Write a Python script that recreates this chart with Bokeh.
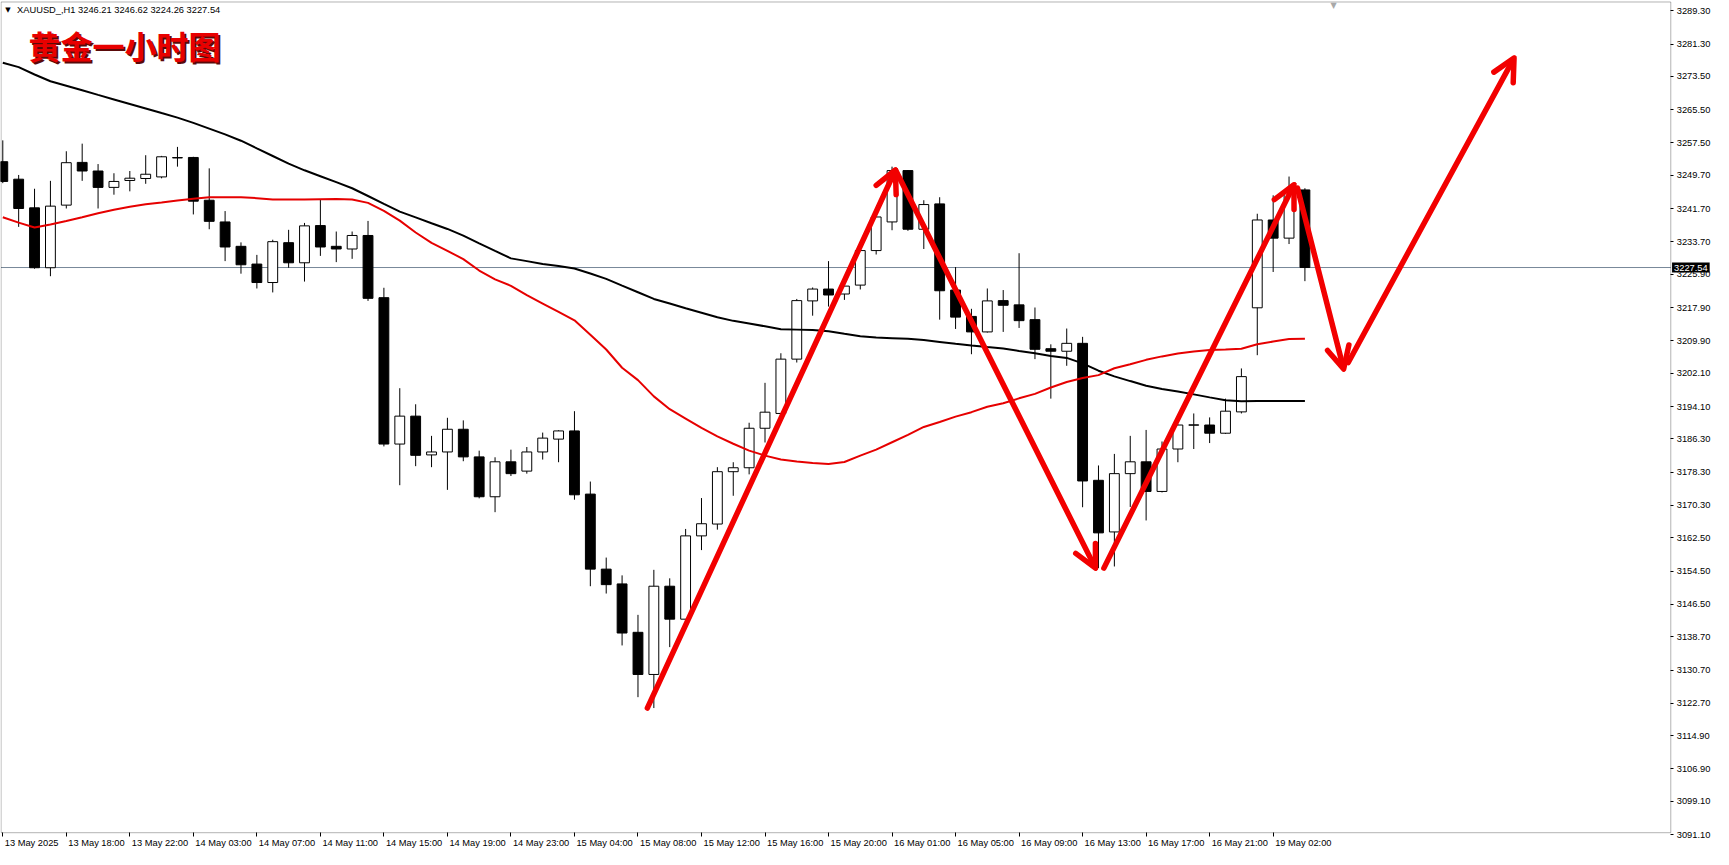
from bokeh.plotting import figure
from bokeh.models import (Range1d, FixedTicker, PrintfTickFormatter, Label, LabelSet,
                          ColumnDataSource, Arrow, OpenHead, BoxAnnotation, LinearAxis)
from bokeh.core.properties import value
from bokeh.embed import file_html
from bokeh.resources import INLINE

# ---------------- data (XAUUSD H1) ----------------
open_ = [3253.00, 3248.79, 3241.90, 3227.49, 3242.55, 3252.83, 3250.76, 3246.82, 3248.48, 3248.96,
         3249.34, 3253.90, 3254.02, 3243.73, 3238.51, 3232.64, 3228.37, 3223.93, 3233.52, 3228.68,
         3237.63, 3232.64, 3232.00, 3235.25, 3220.29, 3185.07, 3191.79, 3182.46, 3183.17, 3188.63,
         3181.98, 3172.39, 3180.80, 3178.56, 3183.17, 3186.26, 3188.23, 3173.03, 3154.98, 3151.42,
         3139.78, 3129.64, 3150.87, 3142.94, 3162.98, 3165.83, 3178.42, 3179.37, 3188.87, 3192.43,
         3205.50, 3219.51, 3222.36, 3221.17, 3223.31, 3231.62, 3238.51, 3250.86, 3236.75, 3242.85,
         3222.12, 3215.78, 3212.05, 3219.58, 3218.56, 3215.00, 3208.01, 3207.40, 3209.30, 3176.35,
         3163.93, 3177.95, 3180.80, 3173.67, 3183.88, 3189.60, 3189.65, 3187.68, 3192.81, 3217.85,
         3238.98, 3234.61, 3246.21]
high = [3258.13, 3249.81, 3246.49, 3248.39, 3255.51, 3257.34, 3252.43, 3250.22, 3250.76, 3254.56,
        3254.40, 3256.56, 3254.18, 3251.40, 3241.12, 3233.59, 3230.58, 3234.23, 3236.61, 3238.27,
        3243.88, 3236.20, 3236.20, 3238.75, 3222.67, 3198.51, 3194.64, 3187.04, 3191.39, 3190.77,
        3183.48, 3181.89, 3183.72, 3184.36, 3187.83, 3188.40, 3192.98, 3176.05, 3157.76, 3153.48,
        3143.98, 3154.81, 3152.77, 3164.65, 3172.08, 3179.51, 3180.70, 3190.20, 3199.80, 3206.92,
        3219.98, 3222.74, 3229.08, 3223.30, 3231.80, 3239.90, 3251.81, 3251.00, 3243.73, 3244.45,
        3227.65, 3217.61, 3222.50, 3222.12, 3230.98, 3217.92, 3209.06, 3212.86, 3210.86, 3179.92,
        3182.70, 3187.04, 3188.47, 3185.69, 3189.80, 3192.43, 3191.48, 3196.00, 3203.26, 3240.48,
        3244.92, 3249.43, 3246.62]
low = [3247.84, 3237.32, 3227.25, 3225.45, 3241.74, 3248.39, 3241.74, 3245.06, 3245.87, 3247.68,
       3249.00, 3251.81, 3240.31, 3236.75, 3229.08, 3226.06, 3222.50, 3221.55, 3227.49, 3224.16,
       3230.34, 3228.84, 3229.63, 3219.51, 3184.50, 3175.17, 3179.75, 3179.51, 3174.05, 3180.94,
       3172.01, 3168.68, 3177.38, 3177.95, 3181.34, 3180.70, 3171.68, 3150.87, 3149.11, 3136.62,
       3124.18, 3121.56, 3136.22, 3142.80, 3159.56, 3164.48, 3172.63, 3177.78, 3185.45, 3192.30,
       3204.69, 3215.95, 3218.15, 3219.75, 3222.26, 3230.67, 3236.51, 3236.37, 3232.00, 3215.00,
       3212.76, 3206.68, 3211.90, 3212.05, 3213.00, 3205.50, 3196.00, 3203.90, 3169.87, 3155.22,
       3155.62, 3169.94, 3166.69, 3173.43, 3180.70, 3183.88, 3185.31, 3187.50, 3192.43, 3206.45,
       3226.47, 3233.19, 3224.26]
close = [3248.25, 3241.74, 3227.49, 3242.31, 3252.76, 3250.76, 3246.82, 3248.25, 3249.03, 3249.98,
         3254.18, 3254.00, 3243.50, 3238.65, 3232.48, 3228.20, 3223.93, 3233.76, 3228.68, 3237.56,
         3232.48, 3232.00, 3235.25, 3220.13, 3185.07, 3191.79, 3182.36, 3183.17, 3188.63, 3181.98,
         3172.39, 3180.80, 3177.95, 3183.17, 3186.50, 3188.23, 3172.86, 3154.98, 3151.25, 3139.61,
         3129.64, 3150.87, 3142.94, 3162.98, 3165.90, 3178.42, 3179.37, 3188.87, 3192.74, 3205.50,
         3219.58, 3222.36, 3220.93, 3223.07, 3231.62, 3239.70, 3250.86, 3236.75, 3242.69, 3221.95,
         3215.61, 3212.05, 3219.51, 3218.46, 3214.76, 3207.87, 3207.40, 3209.30, 3176.19, 3163.70,
         3177.95, 3180.80, 3173.67, 3183.88, 3189.65, 3189.70, 3187.68, 3192.98, 3201.29, 3238.98,
         3234.61, 3246.10, 3227.54]

ma_black = [3276.82, 3275.75, 3273.97, 3272.35, 3271.26, 3270.17, 3269.07, 3267.98, 3266.89, 3265.80,
            3264.70, 3263.61, 3262.33, 3260.95, 3259.57, 3258.05, 3256.20, 3254.37, 3252.52, 3250.93,
            3249.50, 3248.08, 3246.61, 3244.75, 3242.85, 3241.00, 3239.60, 3238.20, 3236.82, 3235.23,
            3233.35, 3231.53, 3229.74, 3229.08, 3228.37, 3227.89, 3227.32, 3226.09, 3224.80, 3223.19,
            3221.60, 3219.98, 3218.87, 3217.75, 3216.68, 3215.59, 3214.71, 3214.05, 3213.40, 3212.69,
            3212.60, 3212.50, 3212.22, 3211.62, 3211.03, 3210.70, 3210.55, 3210.41, 3210.08, 3209.65,
            3209.20, 3208.80, 3208.42, 3208.06, 3207.47, 3206.92, 3206.28, 3205.80, 3204.47, 3202.72,
            3201.36, 3200.22, 3199.11, 3198.32, 3197.73, 3197.02, 3196.30, 3195.59, 3195.35, 3195.40,
            3195.40, 3195.45, 3195.45]
ma_red = [3239.65, 3238.34, 3237.15, 3237.87, 3238.75, 3239.65, 3240.60, 3241.43, 3242.14, 3242.74,
          3243.21, 3243.69, 3244.09, 3244.45, 3244.45, 3244.45, 3244.23, 3243.92, 3243.88, 3243.90,
          3243.95, 3244.00, 3243.92, 3243.09, 3241.19, 3238.82, 3235.97, 3233.47, 3231.57, 3229.55,
          3226.82, 3224.69, 3223.14, 3220.89, 3218.87, 3216.85, 3214.83, 3211.39, 3207.82, 3203.43,
          3200.46, 3196.54, 3193.45, 3191.20, 3188.94, 3186.92, 3185.14, 3183.48, 3182.29, 3181.34,
          3180.87, 3180.51, 3180.27, 3180.75, 3182.29, 3183.72, 3185.50, 3187.28, 3189.18, 3190.37,
          3191.67, 3192.74, 3194.05, 3194.88, 3196.07, 3197.14, 3198.68, 3199.99, 3200.94, 3201.65,
          3203.31, 3204.26, 3205.33, 3206.16, 3206.87, 3207.35, 3207.70, 3207.82, 3207.99, 3209.08,
          3209.72, 3210.32, 3210.39]

time_tick_idx = [0, 4, 8, 12, 16, 20, 24, 28, 32, 36, 40, 44, 48, 52, 56, 60, 64, 68, 72, 76, 80]
time_tick_labels = ["13 May 2025", "13 May 18:00", "13 May 22:00", "14 May 03:00", "14 May 07:00",
                    "14 May 11:00", "14 May 15:00", "14 May 19:00", "14 May 23:00", "15 May 04:00",
                    "15 May 08:00", "15 May 12:00", "15 May 16:00", "15 May 20:00", "16 May 01:00",
                    "16 May 05:00", "16 May 09:00", "16 May 13:00", "16 May 17:00", "16 May 21:00",
                    "19 May 02:00"]
price_ticks = [3289.30, 3281.30, 3273.50, 3265.50, 3257.50, 3249.70, 3241.70, 3233.70, 3225.90,
               3217.90, 3209.90, 3202.10, 3194.10, 3186.30, 3178.30, 3170.30, 3162.50, 3154.50,
               3146.50, 3138.70, 3130.70, 3122.70, 3114.90, 3106.90, 3099.10, 3091.10]
last_price = 3227.54
header_text = "XAUUSD_,H1  3246.21 3246.62 3224.26 3227.54"
title_text = "黄金一小时图"

# hand-drawn arrows (bar index, price)
arrow_x0 = [40.59, 56.23, 69.34, 81.53, 84.73]
arrow_y0 = [3121.56, 3250.93, 3155.22, 3246.66, 3204.69]
arrow_x1 = [56.21, 68.81, 81.31, 84.44, 95.17]
arrow_y1 = [3251.00, 3155.22, 3247.44, 3203.12, 3277.93]

# ---------------- layout constants ----------------
# the whole canvas (chart + price-scale strip + time strip) is the plot frame
X0, X1 = -0.144, 107.73          # canvas left / right in bar units
Y0, Y1 = 3087.53, 3291.78        # canvas bottom / top in price units
BORDER_R = 105.04                # chart border (right) in bar units
BORDER_B = 3091.57               # chart border (bottom) in price units
BORDER_L = -0.11
BORDER_T = 3291.42

p = figure(width=1713, height=849, x_range=Range1d(X0, X1), y_range=Range1d(Y0, Y1),
           toolbar_location=None, output_backend="svg",
           x_axis_type=None, y_axis_type=None,
           min_border=0, min_border_left=0, min_border_right=0, min_border_top=0,
           min_border_bottom=0, background_fill_color="white", border_fill_color="white")
p.outline_line_color = None
p.xgrid.visible = False
p.ygrid.visible = False

# price scale (right), fixed at the chart border
ya = LinearAxis(fixed_location=BORDER_R, ticker=FixedTicker(ticks=price_ticks),
                formatter=PrintfTickFormatter(format="%.2f"))
ya.axis_line_color = None
ya.major_tick_line_color = "black"
ya.major_tick_out = 3
ya.major_tick_in = 0
ya.minor_tick_line_color = None
ya.major_label_standoff = 3
ya.major_label_text_font = "Liberation Sans"
ya.major_label_text_font_size = "9.3px"
ya.major_label_text_color = "black"
p.add_layout(ya, "right")

# time scale (below), fixed at the chart border; labels drawn left-aligned after each tick
xa = LinearAxis(fixed_location=BORDER_B, ticker=FixedTicker(ticks=time_tick_idx))
xa.axis_line_color = None
xa.major_tick_line_color = "black"
xa.major_tick_out = 4
xa.major_tick_in = 0
xa.minor_tick_line_color = None
xa.major_label_text_color = None
p.add_layout(xa, "below")

# price line
p.line([BORDER_L, BORDER_R], [last_price, last_price], line_color="#778899", line_width=1)

# candles
idx = list(range(len(open_)))
src = ColumnDataSource(dict(
    x=idx,
    top=[max(o, c) for o, c in zip(open_, close)],
    bottom=[min(o, c) for o, c in zip(open_, close)],
    high=high, low=low,
    fill=["white" if c >= o else "black" for o, c in zip(open_, close)],
))
p.segment(x0="x", y0="low", x1="x", y1="high", source=src, line_color="black", line_width=1)
p.vbar(x="x", width=0.62, top="top", bottom="bottom", source=src,
       fill_color="fill", line_color="black", line_width=1)

# moving averages
p.line(idx, ma_black, line_color="black", line_width=2)
p.line(idx, ma_red, line_color="#e60000", line_width=2)

# chart border
p.add_layout(BoxAnnotation(left=BORDER_L, right=BORDER_R, bottom=BORDER_B, top=BORDER_T,
                           fill_alpha=0, line_color="black", line_width=1))

# arrows
for xs, ys, xe, ye in zip(arrow_x0, arrow_y0, arrow_x1, arrow_y1):
    p.add_layout(Arrow(x_start=xs, y_start=ys, x_end=xe, y_end=ye,
                       line_color="#f20000", line_width=5.5, line_cap="round",
                       end=OpenHead(size=22, line_color="#f20000", line_width=5.5,
                                    line_cap="round", line_join="round")))

# time labels
tsrc = ColumnDataSource(dict(x=time_tick_idx, y=[3090.26] * len(time_tick_idx), t=time_tick_labels))
p.add_layout(LabelSet(x="x", y="y", text="t", source=tsrc, x_offset=2,
                      text_align="left", text_baseline="top",
                      text_font=value("Liberation Sans"), text_font_size="9.3px",
                      text_color="black"))

# header
p.add_layout(Label(x=0.15, y=3289.45, text="▼", text_font="DejaVu Sans", text_font_size="7px",
                   text_color="black", text_baseline="middle", text_align="left"))
p.add_layout(Label(x=0.9, y=3289.45, text=header_text, text_font="Liberation Sans",
                   text_font_size="9.3px", text_color="black", text_baseline="middle",
                   text_align="left"))
# chart-shift marker
p.add_layout(Label(x=83.8, y=3290.6, text="▼", text_font="DejaVu Sans", text_font_size="8px",
                   text_color="#a8a8a8", text_baseline="middle", text_align="center"))

# title with shadow
p.add_layout(Label(x=1.62 + 0.12, y=3281.0 - 0.45, text=title_text, text_font="Noto Sans CJK SC",
                   text_font_style="bold", text_font_size="32px", text_color="#5a0a0a",
                   text_baseline="middle", text_align="left"))
p.add_layout(Label(x=1.62, y=3281.0, text=title_text, text_font="Noto Sans CJK SC",
                   text_font_style="bold", text_font_size="32px", text_color="#e80000",
                   text_baseline="middle", text_align="left"))

# last price box on the price scale
p.add_layout(Label(x=105.12, y=last_price, text=f"{last_price:.2f}", text_font="Liberation Sans",
                   text_font_size="9.3px", text_color="white", text_baseline="middle",
                   text_align="left", background_fill_color="black", padding=2))

open("out.html", "w").write(file_html(p, INLINE))
